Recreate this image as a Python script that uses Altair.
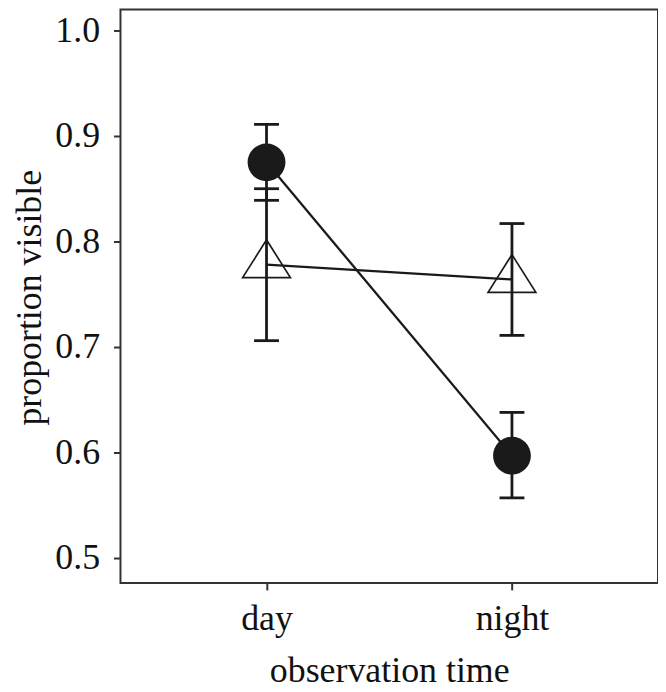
import altair as alt
import pandas as pd

times = ["day", "night"]
groups = ["filled", "open"]
filled_mean = [0.875, 0.597]
filled_lo = [0.839, 0.557]
filled_hi = [0.911, 0.638]
open_mean = [0.778, 0.764]
open_lo = [0.706, 0.711]
open_hi = [0.850, 0.817]
y_ticks = [0.5, 0.6, 0.7, 0.8, 0.9, 1.0]

rows = []
for i, t in enumerate(times):
    rows.append({"time": t, "group": "filled", "mean": filled_mean[i], "lo": filled_lo[i], "hi": filled_hi[i]})
    rows.append({"time": t, "group": "open", "mean": open_mean[i], "lo": open_lo[i], "hi": open_hi[i]})
df = pd.DataFrame(rows)

INK = "#1a1a1a"
FONT = "Liberation Serif"

x = alt.X("time:N", sort=times,
          scale=alt.Scale(type="point", padding=0.595),
          axis=alt.Axis(title="observation time", labelAngle=0,
                        titleBaseline="alphabetic", titleY=99,
                        labelPadding=12))
y_scale = alt.Scale(domain=[0.4764, 1.0198], nice=False, zero=False)

base = alt.Chart(df)

rule = base.mark_rule(color=INK, strokeWidth=2.8).encode(
    x=x,
    y=alt.Y("lo:Q", scale=y_scale,
            axis=alt.Axis(title="proportion visible", values=y_ticks, format=".1f",
                          titleBaseline="alphabetic", titleAngle=-90,
                          titleX=-80, titleY=289, titleAlign="center",
                          labelPadding=14)),
    y2="hi:Q",
)
cap_lo = base.mark_tick(orient="horizontal", size=25, thickness=2.8, color=INK, opacity=1).encode(
    x=x, y=alt.Y("lo:Q", scale=y_scale)
)
cap_hi = base.mark_tick(orient="horizontal", size=25, thickness=2.8, color=INK, opacity=1).encode(
    x=x, y=alt.Y("hi:Q", scale=y_scale)
)
line = base.mark_line(color=INK, strokeWidth=2.3).encode(
    x=x, y=alt.Y("mean:Q", scale=y_scale), detail="group:N"
)
circles = base.transform_filter(alt.datum.group == "filled").mark_point(
    shape="circle", filled=True, size=1444, color=INK, opacity=1
).encode(x=x, y=alt.Y("mean:Q", scale=y_scale))
triangles = base.transform_filter(alt.datum.group == "open").mark_point(
    shape="M0,-1L0.96,0.52L-0.96,0.52Z", filled=False, size=2500,
    color=INK, strokeWidth=1.7, opacity=1
).encode(x=x, y=alt.Y("mean:Q", scale=y_scale))

chart = alt.layer(rule, cap_lo, cap_hi, line, circles, triangles).properties(
    width=540, height=576,
    autosize=alt.AutoSizeParams(type="none"),
    padding={"left": 113, "top": 0, "right": 0, "bottom": 107},
    background="white",
).configure_view(
    stroke="#333333", strokeWidth=2
).configure_axis(
    grid=False, domain=False,
    tickColor="#333333", tickWidth=2, tickSize=7,
    labelFont=FONT, labelFontSize=36, labelColor="#111111",
    titleFont=FONT, titleFontSize=36, titleFontWeight="normal", titleColor="#111111",
)

chart.save("out.html", embed_options={"renderer": "svg", "actions": False})
